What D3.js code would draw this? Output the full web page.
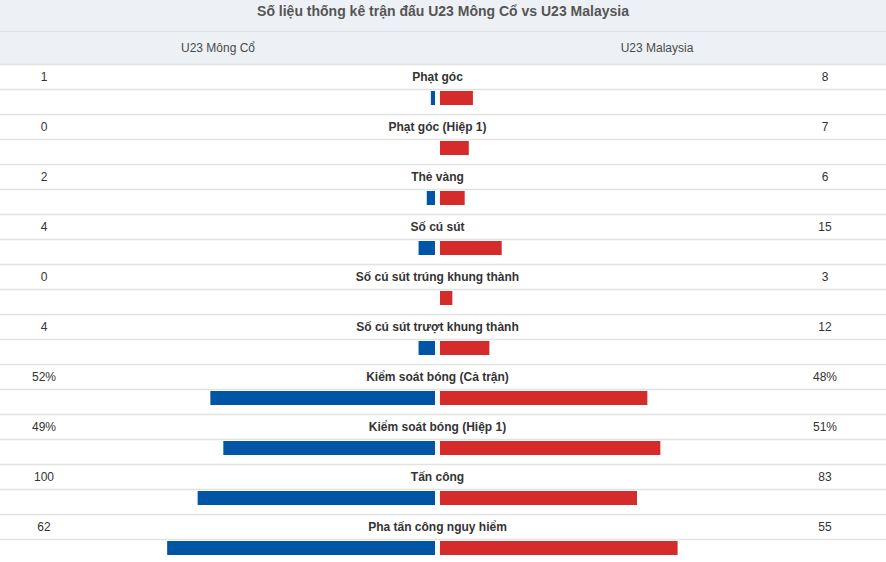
<!DOCTYPE html>
<html>
  <head>
    <meta charset="utf-8">
    <title></title>
    <style>
      body { margin: 0; background: #fff; }
      text { font-family: "Liberation Sans", Arial, sans-serif; }
    </style>
  </head>
  <body>
    <script src="https://cdn.jsdelivr.net/npm/d3@7"></script>
    <script>
      var titleText = 'Số liệu thống kê trận đấu U23 Mông Cổ vs U23 Malaysia';
      var teams = ['U23 Mông Cổ', 'U23 Malaysia'];
      var statLabels = ['Phạt góc', 'Phạt góc (Hiệp 1)', 'Thẻ vàng', 'Số cú sút',
        'Số cú sút trúng khung thành', 'Số cú sút trượt khung thành',
        'Kiểm soát bóng (Cả trận)', 'Kiểm soát bóng (Hiệp 1)', 'Tấn công', 'Pha tấn công nguy hiểm'];
      var homeValues = [1, 0, 2, 4, 0, 4, 52, 49, 100, 62];
      var awayValues = [8, 7, 6, 15, 3, 12, 48, 51, 83, 55];
      var units = ['', '', '', '', '', '', '%', '%', '', ''];
      var scaleMax = [105, 105, 105, 105, 105, 105, 100, 100, 182, 100];

      var width = 886, //svg宽
        height = 562, //svg高
        rowH = 25, //每行高度
        headBottom = 64, //表头下沿
        mid = 437.5, //中线
        gap = 2.5, //柱形与中线距离
        barH = 14;

      var svg = d3.select('body').append('svg')
        .attr('width', width)
        .attr('height', height);

      // 标题和表头背景
      svg.append('rect').attr('x', 0).attr('y', 0).attr('width', width).attr('height', headBottom)
        .attr('fill', '#edf1f5');
      svg.append('line').attr('x1', 0).attr('x2', width).attr('y1', 31.5).attr('y2', 31.5)
        .attr('stroke', '#dde2e7');

      svg.append('text').attr('x', width / 2).attr('y', 16)
        .attr('text-anchor', 'middle').attr('font-size', '14px').attr('font-weight', 'bold')
        .attr('fill', '#555').text(titleText);

      svg.selectAll('.team').data(teams).enter().append('text')
        .classed('team', true)
        .attr('x', function(d, i) { return i === 0 ? 218 : 657; })
        .attr('y', 52)
        .attr('text-anchor', 'middle').attr('font-size', '12px')
        .attr('fill', '#4a4a4a').text(function(d) { return d; });

      var rows = svg.selectAll('.row').data(statLabels).enter().append('g')
        .classed('row', true)
        .attr('transform', function(d, i) { return 'translate(0,' + (headBottom + i * rowH * 2) + ')'; });

      // 分隔线
      rows.each(function(d, i) {
        var g = d3.select(this);
        [0, rowH, rowH * 2].forEach(function(y) {
          if (i > 0 && y === 0) return;
          g.append('line').attr('x1', 0).attr('x2', width)
            .attr('y1', y + 0.5).attr('y2', y + 0.5)
            .attr('stroke', '#e2e2e2').attr('stroke-width', 1.5);
        });
      });

      rows.append('text')
        .attr('x', mid).attr('y', 16.5)
        .attr('text-anchor', 'middle').attr('font-size', '12px').attr('font-weight', 'bold')
        .attr('fill', '#333').text(function(d) { return d; });

      rows.append('text')
        .attr('x', 44).attr('y', 16.5)
        .attr('text-anchor', 'middle').attr('font-size', '12px')
        .attr('fill', '#333').text(function(d, i) { return homeValues[i] + units[i]; });

      rows.append('text')
        .attr('x', 825).attr('y', 16.5)
        .attr('text-anchor', 'middle').attr('font-size', '12px')
        .attr('fill', '#333').text(function(d, i) { return awayValues[i] + units[i]; });

      // 柱形
      rows.each(function(d, i) {
        var g = d3.select(this);
        var x = d3.scaleLinear().domain([0, scaleMax[i]]).range([0, 432]);
        if (homeValues[i] > 0) {
          g.append('rect')
            .attr('x', mid - gap - x(homeValues[i]))
            .attr('y', rowH + 2)
            .attr('width', x(homeValues[i]))
            .attr('height', barH)
            .attr('fill', '#0055a5');
        }
        if (awayValues[i] > 0) {
          g.append('rect')
            .attr('x', mid + gap)
            .attr('y', rowH + 2)
            .attr('width', x(awayValues[i]))
            .attr('height', barH)
            .attr('fill', '#d62b2b');
        }
      });
    </script>
  </body>
</html>
